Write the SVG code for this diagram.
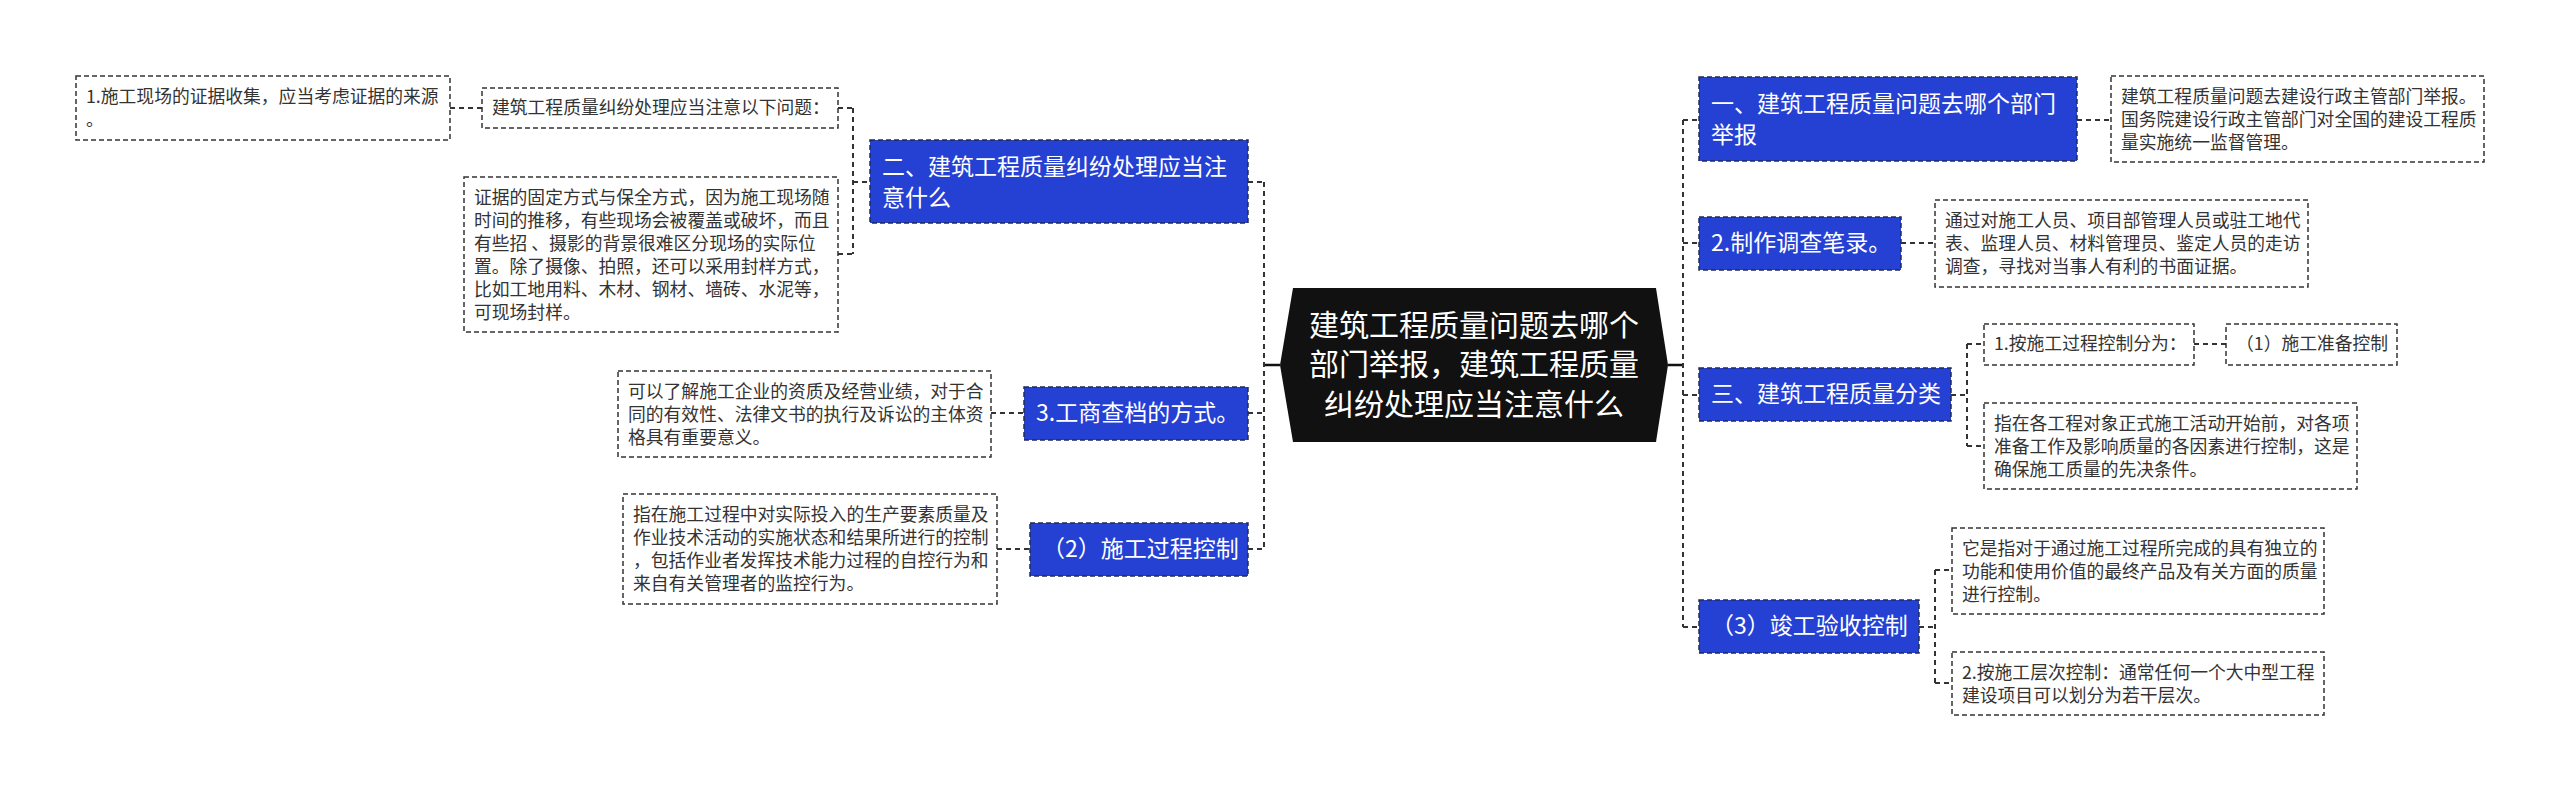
<svg xmlns="http://www.w3.org/2000/svg" width="2560" height="791" viewBox="0 0 2560 791">
<style>
.desc{fill:#ffffff;stroke:#333333;stroke-width:1.5;stroke-dasharray:5,3}
.blue{fill:#2541d4;stroke:#222a55;stroke-width:1.5;stroke-dasharray:5,3}
.dt{font-family:"Noto Sans CJK SC","Noto Sans",sans-serif;font-size:17.8px;fill:#333333}
.bt{font-family:"Noto Sans CJK SC","Noto Sans",sans-serif;font-size:23px;fill:#ffffff}
.ct{font-family:"Noto Sans CJK SC","Noto Sans",sans-serif;font-size:30px;fill:#ffffff;text-anchor:middle}
.con{fill:none;stroke:#333333;stroke-width:2;stroke-dasharray:5,4}
.solid{fill:none;stroke:#111111;stroke-width:2.5}
</style>
<rect width="2560" height="791" fill="#ffffff"/>
<g id="connectors">
<path class="solid" d="M1280,365 H1264 M1668,365 H1684"/>
<path class="con" d="M1264,182 V549 M1248,182 H1264 M1248,413 H1264 M1248,549 H1264"/>
<path class="con" d="M853,108 V254 M853,182 H870 M838,108 H853 M838,254 H853"/>
<path class="con" d="M450,108 H482"/>
<path class="con" d="M991,413 H1024"/>
<path class="con" d="M997,549 H1030"/>
<path class="con" d="M1683,120 V627 M1683,120 H1699 M1683,243 H1699 M1683,395 H1699 M1683,627 H1699"/>
<path class="con" d="M2077,120 H2111"/>
<path class="con" d="M1901,243 H1935"/>
<path class="con" d="M1951,395 H1967 M1967,344 V446 M1967,344 H1984 M1967,446 H1984"/>
<path class="con" d="M2194,344 H2226"/>
<path class="con" d="M1919,627 H1935 M1935,570 V683 M1935,570 H1952 M1935,683 H1952"/>
</g>
<g id="center">
<polygon points="1293,288 1656,288 1668,365 1656,442 1293,442 1280,365" fill="#111111"/>
<text class="ct" x="1474" y="336">建筑工程质量问题去哪个</text>
<text class="ct" x="1474" y="375">部门举报，建筑工程质量</text>
<text class="ct" x="1474" y="415">纠纷处理应当注意什么</text>
</g>
<g id="n2">
<rect class="blue" x="870" y="140" width="378" height="83"/>
<text class="bt" x="882" y="175">二、建筑工程质量纠纷处理应当注</text>
<text class="bt" x="882" y="206">意什么</text>
</g>
<g id="nB">
<rect class="desc" x="482" y="88" width="356" height="40"/>
<text class="dt" x="492" y="114">建筑工程质量纠纷处理应当注意以下问题：</text>
</g>
<g id="nA">
<rect class="desc" x="76" y="76" width="374" height="64"/>
<text class="dt" x="86" y="103">1.施工现场的证据收集，应当考虑证据的来源</text>
<text class="dt" x="86" y="126">。</text>
</g>
<g id="nC">
<rect class="desc" x="464" y="177" width="374" height="155"/>
<text class="dt" x="474" y="204">证据的固定方式与保全方式，因为施工现场随</text>
<text class="dt" x="474" y="227">时间的推移，有些现场会被覆盖或破坏，而且</text>
<text class="dt" x="474" y="250">有些招 、摄影的背景很难区分现场的实际位</text>
<text class="dt" x="474" y="273">置。除了摄像、拍照，还可以采用封样方式，</text>
<text class="dt" x="474" y="296">比如工地用料、木材、钢材、墙砖、水泥等，</text>
<text class="dt" x="474" y="319">可现场封样。</text>
</g>
<g id="n3">
<rect class="blue" x="1024" y="387" width="224" height="53"/>
<text class="bt" x="1036" y="421">3.工商查档的方式。</text>
</g>
<g id="nD">
<rect class="desc" x="618" y="371" width="373" height="86"/>
<text class="dt" x="628" y="398">可以了解施工企业的资质及经营业绩，对于合</text>
<text class="dt" x="628" y="421">同的有效性、法律文书的执行及诉讼的主体资</text>
<text class="dt" x="628" y="444">格具有重要意义。</text>
</g>
<g id="np2">
<rect class="blue" x="1030" y="523" width="218" height="53"/>
<text class="bt" x="1042" y="557">（2）施工过程控制</text>
</g>
<g id="nE">
<rect class="desc" x="623" y="494" width="374" height="110"/>
<text class="dt" x="633" y="521">指在施工过程中对实际投入的生产要素质量及</text>
<text class="dt" x="633" y="544">作业技术活动的实施状态和结果所进行的控制</text>
<text class="dt" x="633" y="567">，包括作业者发挥技术能力过程的自控行为和</text>
<text class="dt" x="633" y="590">来自有关管理者的监控行为。</text>
</g>
<g id="n1">
<rect class="blue" x="1699" y="77" width="378" height="84"/>
<text class="bt" x="1711" y="112">一、建筑工程质量问题去哪个部门</text>
<text class="bt" x="1711" y="143">举报</text>
</g>
<g id="nF">
<rect class="desc" x="2111" y="76" width="373" height="86"/>
<text class="dt" x="2121" y="103">建筑工程质量问题去建设行政主管部门举报。</text>
<text class="dt" x="2121" y="126">国务院建设行政主管部门对全国的建设工程质</text>
<text class="dt" x="2121" y="149">量实施统一监督管理。</text>
</g>
<g id="nz">
<rect class="blue" x="1699" y="217" width="202" height="53"/>
<text class="bt" x="1711" y="251">2.制作调查笔录。</text>
</g>
<g id="nG">
<rect class="desc" x="1935" y="200" width="373" height="87"/>
<text class="dt" x="1945" y="227">通过对施工人员、项目部管理人员或驻工地代</text>
<text class="dt" x="1945" y="250">表、监理人员、材料管理员、鉴定人员的走访</text>
<text class="dt" x="1945" y="273">调查，寻找对当事人有利的书面证据。</text>
</g>
<g id="nsan">
<rect class="blue" x="1699" y="368" width="252" height="53"/>
<text class="bt" x="1711" y="402">三、建筑工程质量分类</text>
</g>
<g id="nH">
<rect class="desc" x="1984" y="324" width="210" height="41"/>
<text class="dt" x="1994" y="350">1.按施工过程控制分为：</text>
</g>
<g id="nI">
<rect class="desc" x="2226" y="324" width="171" height="41"/>
<text class="dt" x="2236" y="350">（1）施工准备控制</text>
</g>
<g id="nJ">
<rect class="desc" x="1984" y="403" width="373" height="86"/>
<text class="dt" x="1994" y="430">指在各工程对象正式施工活动开始前，对各项</text>
<text class="dt" x="1994" y="453">准备工作及影响质量的各因素进行控制，这是</text>
<text class="dt" x="1994" y="476">确保施工质量的先决条件。</text>
</g>
<g id="np3">
<rect class="blue" x="1699" y="600" width="220" height="53"/>
<text class="bt" x="1711" y="634">（3）竣工验收控制</text>
</g>
<g id="nK">
<rect class="desc" x="1952" y="528" width="372" height="86"/>
<text class="dt" x="1962" y="555">它是指对于通过施工过程所完成的具有独立的</text>
<text class="dt" x="1962" y="578">功能和使用价值的最终产品及有关方面的质量</text>
<text class="dt" x="1962" y="601">进行控制。</text>
</g>
<g id="nL">
<rect class="desc" x="1952" y="652" width="372" height="63"/>
<text class="dt" x="1962" y="679">2.按施工层次控制：通常任何一个大中型工程</text>
<text class="dt" x="1962" y="702">建设项目可以划分为若干层次。</text>
</g>
</svg>
